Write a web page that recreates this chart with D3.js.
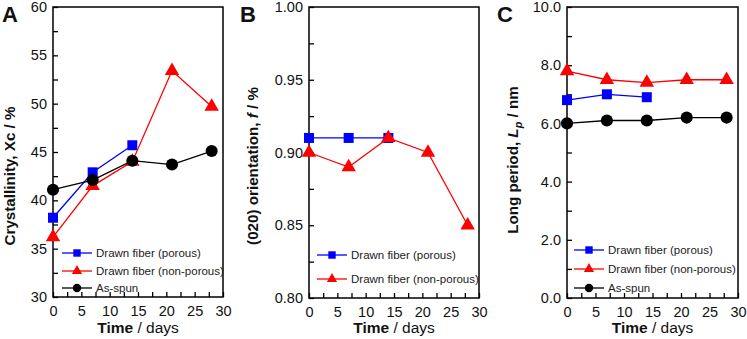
<html>
<head>
<script src="https://cdn.jsdelivr.net/npm/d3@7"></script>
<style>
  body { margin: 0; background: #fff; }
  text { font-family: "Liberation Sans", Arial, sans-serif; }
</style>
</head>
<body>
<div id="chart"></div>
<script>
// data
const days = [0, 7, 14, 21, 28];
const daysPorous = [0, 7, 14];

const xcPorous = [38.2, 42.9, 45.7];
const xcNonPorous = [36.2, 41.5, 44.0, 53.4, 49.7];
const xcAsSpun = [41.1, 42.1, 44.1, 43.7, 45.1];

const fPorous = [0.91, 0.91, 0.91];
const fNonPorous = [0.90, 0.89, 0.91, 0.90, 0.85];

const lpPorous = [6.8, 7.0, 6.9];
const lpNonPorous = [7.8, 7.5, 7.4, 7.5, 7.5];
const lpAsSpun = [6.0, 6.1, 6.1, 6.2, 6.2];

const xTicks = [0, 5, 10, 15, 20, 25, 30];
const legendNames = ["Drawn fiber (porous)", "Drawn fiber (non-porous)", "As-spun"];

const BLUE = "#0000ff", RED = "#ff0000", BLACK = "#000000";

let svg = d3.select("#chart").append("svg")
  .attr("width", 747).attr("height", 339);

let panels = [
  {
    letter: "A", lx: 2, left: 53, right: 223, top: 7, bottom: 297,
    yDomain: [30, 60], yMajor: d3.range(30, 61, 5), yMinor: d3.range(30, 60.1, 2.5),
    yFmt: d3.format("d"), labelX: 15, labelY: 176,
    label: [["Crystallinity, Xc /  %", "normal"]],
    series: [
      { x: daysPorous, y: xcPorous, color: BLUE, shape: "square", name: legendNames[0] },
      { x: days, y: xcNonPorous, color: RED, shape: "triangle", name: legendNames[1] },
      { x: days, y: xcAsSpun, color: BLACK, shape: "circle", name: legendNames[2] }
    ],
    legX: 62, legY: [253, 271, 288]
  },
  {
    letter: "B", lx: 240, left: 309, right: 479, top: 7, bottom: 298,
    yDomain: [0.8, 1.0], yMajor: [0.80, 0.85, 0.90, 0.95, 1.00], yMinor: d3.range(0, 9).map(i => 0.8 + i * 0.025),
    yFmt: d3.format(".2f"), labelX: 258, labelY: 166,
    label: [["(020) orientation, ", "normal"], ["f", "italic"], [" /  %", "normal"]],
    series: [
      { x: daysPorous, y: fPorous, color: BLUE, shape: "square", name: legendNames[0] },
      { x: days, y: fNonPorous, color: RED, shape: "triangle", name: legendNames[1] }
    ],
    legX: 317, legY: [255, 279]
  },
  {
    letter: "C", lx: 497, left: 567, right: 738, top: 7, bottom: 298,
    yDomain: [0, 10], yMajor: [0, 2, 4, 6, 8, 10], yMinor: d3.range(0, 11, 1),
    yFmt: d3.format(".1f"), labelX: 518, labelY: 160,
    label: [["Long period, ", "normal"], ["L", "italic"], ["p", "sub"], [" /   nm", "normal"]],
    series: [
      { x: daysPorous, y: lpPorous, color: BLUE, shape: "square", name: legendNames[0] },
      { x: days, y: lpNonPorous, color: RED, shape: "triangle", name: legendNames[1] },
      { x: days, y: lpAsSpun, color: BLACK, shape: "circle", name: legendNames[2] }
    ],
    legX: 574, legY: [250, 269, 288]
  }
];

function symbolFor(shape, size) {
  let t = shape === "square" ? d3.symbolSquare : shape === "triangle" ? d3.symbolTriangle : d3.symbolCircle;
  return d3.symbol().type(t).size(size)();
}
const markSize = { square: 100, triangle: 90, circle: 115 };

panels.forEach(function (p) {
  let x = d3.scaleLinear().domain([0, 30]).range([p.left, p.right]);
  let y = d3.scaleLinear().domain(p.yDomain).range([p.bottom, p.top]);
  let g = svg.append("g");

  // frame
  g.append("rect")
    .attr("x", p.left).attr("y", p.top)
    .attr("width", p.right - p.left).attr("height", p.bottom - p.top)
    .attr("fill", "none").attr("stroke", "#000").attr("stroke-width", 1.5);

  // x axis
  let xAxis = g.append("g").attr("transform", "translate(0," + p.bottom + ")")
    .call(d3.axisBottom(x).tickValues(d3.range(0, 30.1, 2.5)).tickSize(-5).tickFormat(""));
  xAxis.select(".domain").remove();
  let xLab = g.append("g").attr("transform", "translate(0," + p.bottom + ")")
    .call(d3.axisBottom(x).tickValues(xTicks).tickSize(0).tickPadding(9));
  xLab.select(".domain").remove();
  xLab.selectAll("text").attr("font-size", 14.5).attr("fill", "#111")
    .style("font-family", "'Liberation Sans', Arial, sans-serif");

  // y axis
  let yAxis = g.append("g").attr("transform", "translate(" + p.left + ",0)")
    .call(d3.axisLeft(y).tickValues(p.yMinor).tickSize(-5).tickFormat(""));
  yAxis.select(".domain").remove();
  let yLab = g.append("g").attr("transform", "translate(" + p.left + ",0)")
    .call(d3.axisLeft(y).tickValues(p.yMajor).tickSize(0).tickPadding(6).tickFormat(p.yFmt));
  yLab.select(".domain").remove();
  yLab.selectAll("text").attr("font-size", 14.5).attr("fill", "#111")
    .style("font-family", "'Liberation Sans', Arial, sans-serif");
  g.selectAll(".tick line").attr("stroke-width", 1.3);

  // x title
  let xt = g.append("text")
    .attr("x", (p.left + p.right) / 2).attr("y", 333)
    .attr("text-anchor", "middle").attr("font-size", 15.5).attr("fill", "#111");
  xt.append("tspan").attr("font-weight", "bold").text("Time");
  xt.append("tspan").text(" / days");

  // y title
  let yt = g.append("text")
    .attr("transform", "translate(" + p.labelX + "," + p.labelY + ") rotate(-90)")
    .attr("text-anchor", "middle").attr("font-size", 15.2)
    .attr("font-weight", "bold").attr("fill", "#111");
  p.label.forEach(function (part) {
    let ts = yt.append("tspan").text(part[0]);
    if (part[1] === "italic") ts.attr("font-style", "italic");
    if (part[1] === "sub") ts.attr("font-style", "italic").attr("font-size", 11).attr("dy", 4);
    if (part[1] === "normal" && part[0].startsWith(" /")) ts.attr("dy", p.letter === "C" ? -4 : 0);
  });

  // panel letter
  g.append("text").attr("x", p.lx).attr("y", 22)
    .attr("font-size", 22).attr("font-weight", "bold").attr("fill", "#111").text(p.letter);

  // series
  let line = d3.line().x(d => x(d[0])).y(d => y(d[1]));
  p.series.forEach(function (s) {
    let pts = s.x.map((d, i) => [d, s.y[i]]);
    g.append("path").datum(pts).attr("d", line)
      .attr("fill", "none").attr("stroke", s.color).attr("stroke-width", 1.3);
    g.selectAll(null).data(pts).enter().append("path")
      .attr("transform", d => "translate(" + x(d[0]) + "," + y(d[1]) + ")")
      .attr("d", symbolFor(s.shape, markSize[s.shape]))
      .attr("fill", s.color);
  });

  // legend
  p.series.forEach(function (s, i) {
    let ly = p.legY[i];
    g.append("line").attr("x1", p.legX).attr("x2", p.legX + 30)
      .attr("y1", ly).attr("y2", ly).attr("stroke", s.color).attr("stroke-width", 1.3);
    g.append("path").attr("transform", "translate(" + (p.legX + 15) + "," + ly + ")")
      .attr("d", symbolFor(s.shape, s.shape === "triangle" ? 45 : 55)).attr("fill", s.color);
    g.append("text").attr("x", p.legX + 34).attr("y", ly + 4)
      .attr("font-size", 11.5).attr("fill", "#222").text(s.name);
  });
});
</script>
</body>
</html>
